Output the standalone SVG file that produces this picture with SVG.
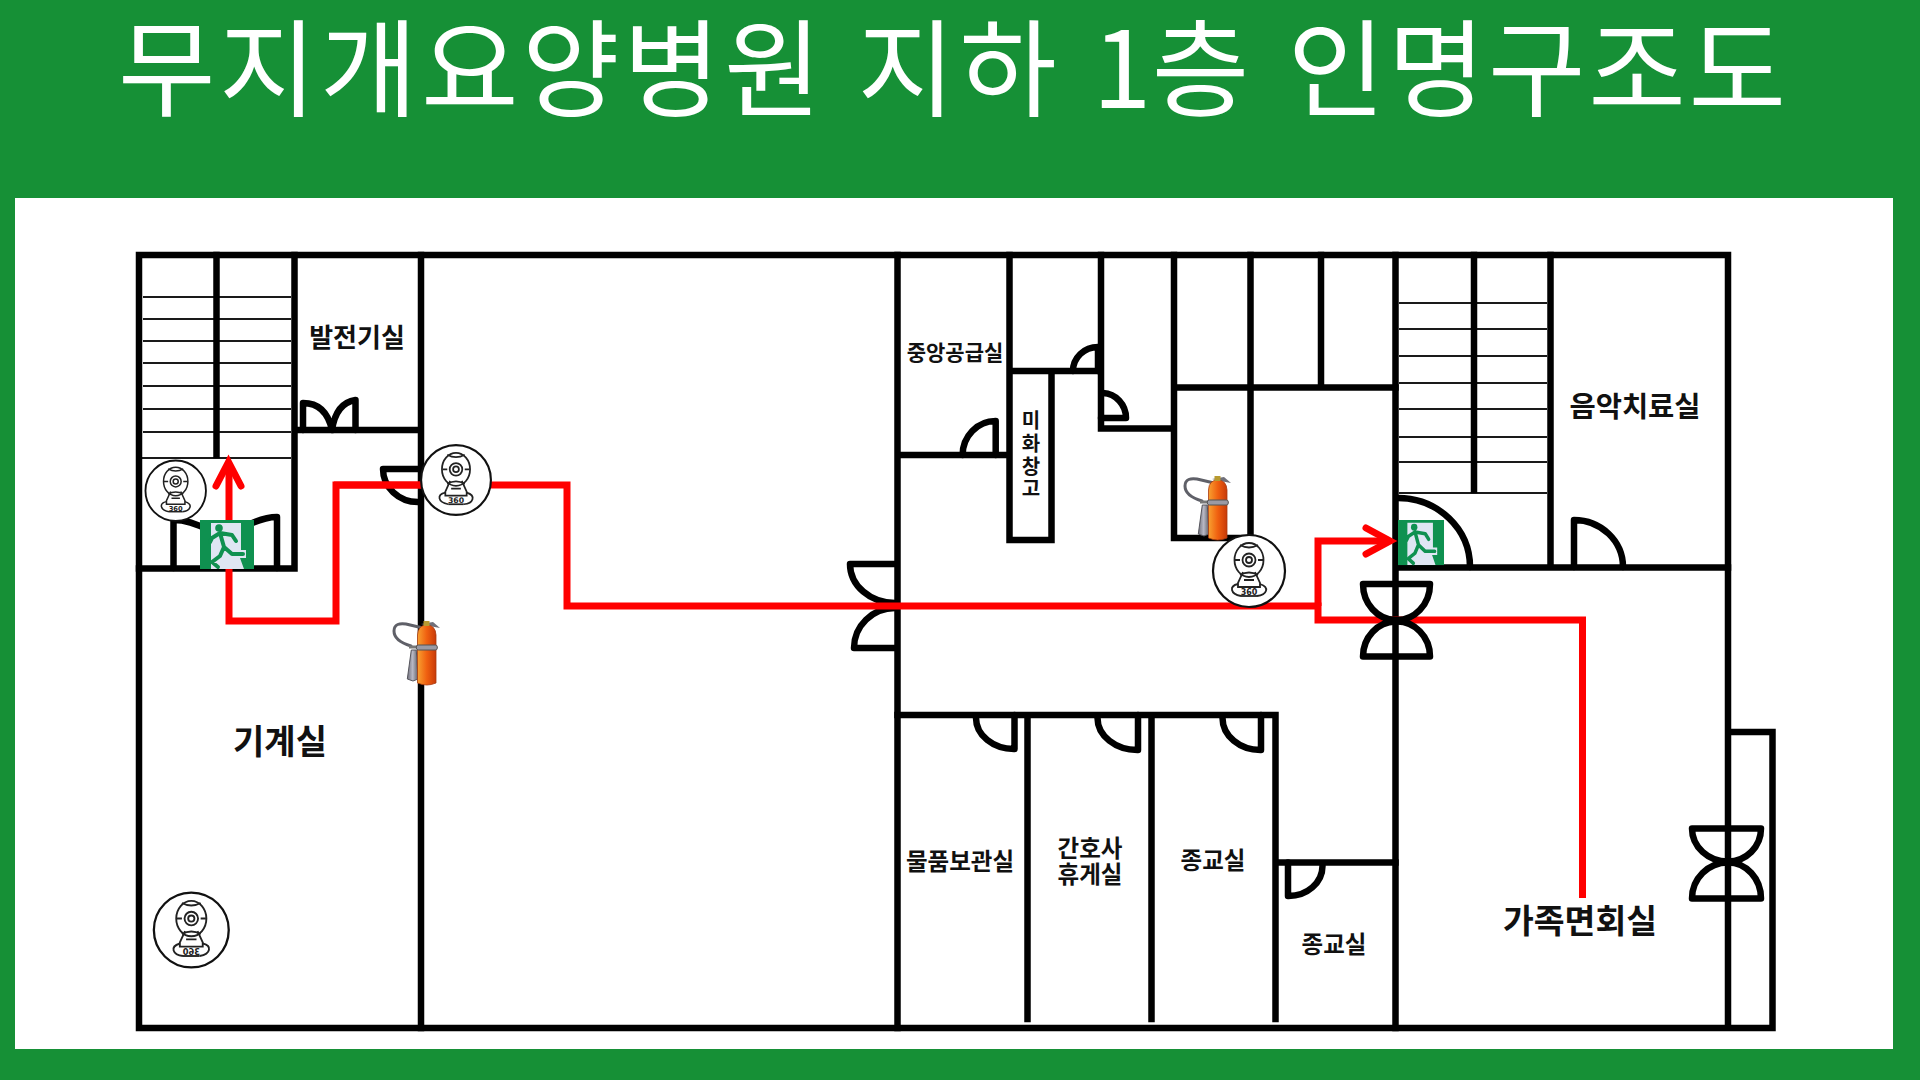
<svg xmlns="http://www.w3.org/2000/svg" width="1920" height="1080" viewBox="0 0 1920 1080">
<style>
.w{fill:none;stroke:#000;stroke-width:6.5;stroke-linecap:square;stroke-linejoin:miter}
.t{fill:none;stroke:#1a1a1a;stroke-width:2}
.d{fill:none;stroke:#000;stroke-width:6.5;stroke-linecap:round;stroke-linejoin:round}
.r{fill:none;stroke:#f00;stroke-width:7;stroke-linejoin:miter;stroke-linecap:butt}
.l{font-family:"Noto Sans CJK KR","Noto Sans",sans-serif;font-weight:700;fill:#111;text-anchor:middle}
.title{font-family:"Noto Sans CJK KR","Noto Sans",sans-serif;font-weight:400;fill:#fff;font-size:106px}
.c{fill:none;stroke:#222;stroke-width:1.8}
.m{fill:none;stroke:#0f9150;stroke-width:4;stroke-linecap:round;stroke-linejoin:round}
</style>
<defs>
<linearGradient id="og" x1="0" x2="1" y1="0" y2="0"><stop offset="0" stop-color="#f8a030"/><stop offset=".5" stop-color="#f06010"/><stop offset="1" stop-color="#c83a08"/></linearGradient>
<linearGradient id="gg" x1="0" x2="1" y1="0" y2="0"><stop offset="0" stop-color="#70707c"/><stop offset=".5" stop-color="#b8b8c4"/><stop offset="1" stop-color="#606068"/></linearGradient>
<g id="cam">
<circle r="36" fill="#fff" stroke="#111" stroke-width="2.200"/>
<ellipse cy="-11" rx="14.500" ry="17" class="c"/>
<path class="c" d="M-14-11h5M9-11h5M-9-26Q0-21 9-26M-9 4Q0-1 9 4"/>
<circle cy="-11" r="6.500" class="c"/><circle cy="-11" r="3" class="c"/>
<path class="c" d="M-6 1-11 12V16H11V12L6 1M-5 9H5"/>
<path class="c" d="M-11 13C-20 15-19 23-8 25M8 25C18 24 21 16 11 13"/>
<path class="c" d="M-8 25H8"/>
<text y="24" text-anchor="middle" font-family="'DejaVu Sans',sans-serif" font-weight="700" font-size="8" fill="#222">360</text>
</g>
<g id="exit">
<rect width="54" height="49" fill="#0f9150"/>
<path d="M11 3H41V30H46V38H40L44 49H11Z" fill="#dfe6f3"/>
<circle cx="19" cy="8" r="3.800" fill="#0f9150"/>
<path class="m" d="M20 13 24 27M20 13 32 15 36 21M20 13 12 18 10 22M24 27 32 34H43M24 27 20 36 12 42 18 47"/>
</g>
<g id="ext">
<path d="M18 31C8 28 1 24 1 16C1 9 7 8 13 9L30 13" fill="none" stroke="#5f6068" stroke-width="3" stroke-linecap="round"/>
<path d="M28 9 40 7 47 13 36 11Z" fill="#70707a"/>
<path d="M18.300 35H23.300L25 64 20 66 14.300 64Z" fill="url(#gg)" stroke="#55555c"/>
<path d="M16 32H25" stroke="#777" stroke-width="3" fill="none"/>
<path d="M24.500 20Q25 10 33.700 10Q42.400 10 43 20V68Q33.700 72 24.500 68Z" fill="url(#og)" stroke="#a83a10" stroke-width=".8"/>
<rect x="23.300" y="30" width="21" height="5" rx="2" fill="#9a9aa4" stroke="#555"/>
<rect x="30.500" y="6" width="6" height="5" fill="#b89a30"/>
</g>
</defs>
<rect width="1920" height="1080" fill="#169036"/>
<rect x="15" y="198" width="1878" height="851" fill="#fff"/>
<text id="title" class="title" y="108"><tspan x="118" letter-spacing="3.500">무지개요양병원 </tspan><tspan x="857.500" letter-spacing="4.160">지하 </tspan><tspan x="1092.400" letter-spacing=".5">1층 </tspan><tspan x="1287.600" letter-spacing="2.700">인명구조도</tspan></text>
<g id="stairs">
<path class="t" d="M143 297H291M143 319H291M143 341H291M143 363H291M143 386H291M143 409H291M143 432H291M141 458H291"/>
<path class="t" d="M1399 303H1547M1399 329H1547M1399 356H1547M1399 383H1547M1399 409H1547M1399 437H1547M1399 462H1547M1399 493H1547"/>
</g>
<g id="walls">
<path class="w" d="M139 255H1728V1028H139ZM1728 732H1772.500V1028H1728"/>
<path class="w" d="M216.500 255V455M294.500 255V568.500H139M294.500 430H421M421 255V1028"/>
<path class="w" d="M897.500 255V1028M897.500 455H1009.500M1009.500 255V540H1051.500V371H1009.500M1051.500 371H1101M1101 255V428.500H1174M1174 255V538H1250.500M1250.500 255V538M1321 255V387.500M1174 387.500H1395.500"/>
<path class="w" d="M1395.500 255V1028M1474 255V490M1550.500 255V567.500M1395.500 567.500H1728"/>
<path class="w" d="M897.500 715H1275.500M1027.500 715V1019M1151.500 715V1019M1275.500 715V1019M1275.500 862.500H1395.500"/>
</g>
<g id="doors">
<path class="d" d="M303 430V403Q326 403 332 430M355.500 430V400Q336 403 332 430"/>
<path class="d" d="M173.500 568V520Q190 520 208 530M277 568V517Q264 517 246 526"/>
<path class="d" d="M418 469H383A35 33 0 0 0 418 502"/>
<path class="d" d="M850 564H895M850 564A45 39 0 0 0 895 603M854 648H895M854 648A41 40 0 0 1 895 608"/>
<path class="d" d="M995.700 455V421A33 34 0 0 0 962.600 455"/>
<path class="d" d="M1073 371A25 24 0 0 1 1098 347V371"/>
<path class="d" d="M1101 418H1126A24 25 0 0 0 1103 393"/>
<path class="d" d="M1398 498A72 69 0 0 1 1470 567"/>
<path class="d" d="M1574 567V520A49 47 0 0 1 1623 567"/>
<path class="d" d="M1014.500 715V749A38 31 0 0 1 976 718M1138 715V750A40 32 0 0 1 1097.500 718M1261 715V750A38 32 0 0 1 1222.500 718"/>
<path class="d" d="M1288 862.500V896A34 30 0 0 0 1322.500 866"/>
<path class="d" d="M1692 828.500H1761M1692 898.500H1761M1692 828.500A36 33 0 0 0 1728 861.500A33 33 0 0 0 1761 828.500M1692 898.500A36 36 0 0 1 1728 862.500A33 36 0 0 1 1761 898.500"/>
</g>
<g id="connectors">
<path class="r" d="M1582.500 898V620H1318V606H567V485H334"/>
<path class="r" d="M1318 606V541H1388"/>
<path class="r" d="M422 485H336V621H229V465"/>
<path d="M1366 528 1390 541 1366 554" fill="none" stroke="#f00" stroke-width="7" stroke-linecap="round"/>
<path d="M216 486 228.500 462 241 486" fill="none" stroke="#f00" stroke-width="7" stroke-linecap="round"/>
</g>
<g id="door-hall-east"><path class="d" d="M1363 584H1430M1363 656.500H1430M1363 584A33 36 0 0 0 1395.500 620A33 36 0 0 0 1430 584M1363 656.500A33 35 0 0 1 1395.500 621.500A33 35 0 0 1 1430 656.500"/></g>
<g id="exit-1"><use href="#exit" transform="translate(200 520)"/></g>
<g id="exit-2"><use href="#exit" transform="translate(1398 520) scale(.852 .92)"/></g>
<g id="cam-1"><use href="#cam" transform="translate(175.700 490.700) scale(.84)"/></g>
<g id="cam-2"><use href="#cam" transform="translate(456 480) scale(.97)"/></g>
<g id="cam-3"><use href="#cam" transform="translate(1249 571)"/></g>
<g id="cam-4"><use href="#cam" transform="translate(191.300 930) scale(-1.04 1.04)"/></g>
<g id="ext-1"><use href="#ext" transform="translate(393 615)"/></g>
<g id="ext-2"><use href="#ext" transform="translate(1184 470)"/></g>
<g id="labels">
<text class="l" x="357" y="347" font-size="26">발전기실</text>
<text class="l" x="280" y="754" font-size="34">기계실</text>
<text class="l" x="955" y="360" font-size="21">중앙공급실</text>
<text class="l" x="1031" y="428" font-size="20">미</text>
<text class="l" x="1031" y="451" font-size="20">화</text>
<text class="l" x="1031" y="474" font-size="20">창</text>
<text class="l" x="1031" y="496" font-size="20">고</text>
<text class="l" x="1635" y="417" font-size="28.500">음악치료실</text>
<text class="l" x="960" y="870" font-size="23.500">물품보관실</text>
<text class="l" x="1090" y="857" font-size="23.500">간호사</text>
<text class="l" x="1090" y="883" font-size="23.500">휴게실</text>
<text class="l" x="1213" y="869" font-size="23.500">종교실</text>
<text class="l" x="1334" y="953" font-size="23.500">종교실</text>
<text class="l" x="1580" y="933" font-size="33.500">가족면회실</text>
</g>
</svg>
